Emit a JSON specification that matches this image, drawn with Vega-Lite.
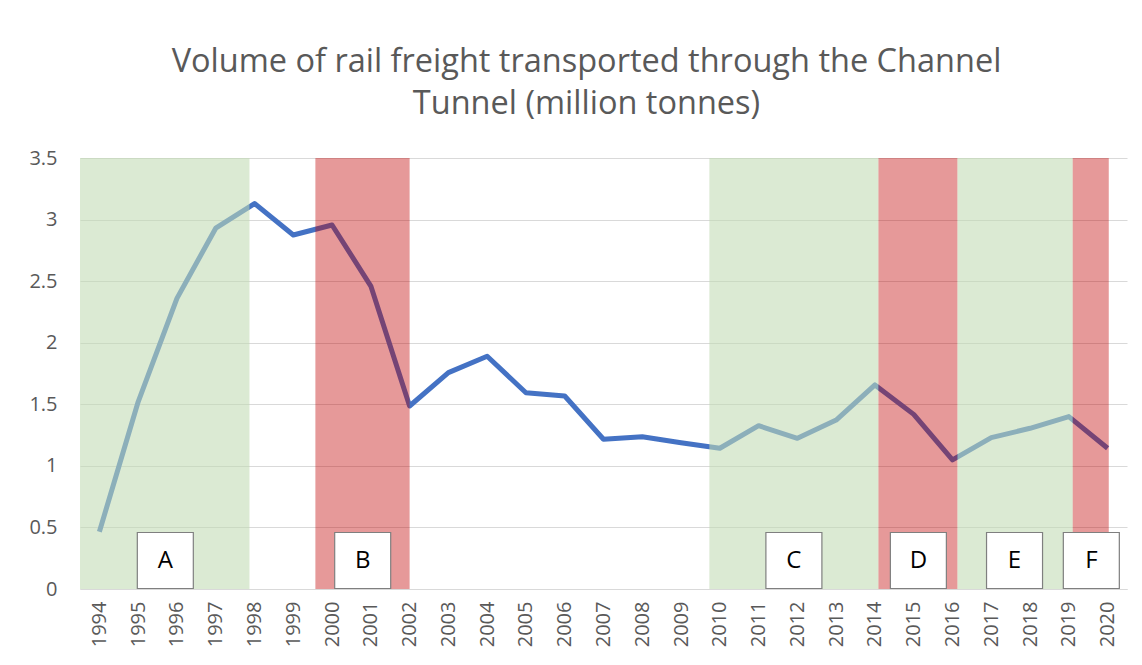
{
  "$schema": "https://vega.github.io/schema/vega-lite/v6.json",
  "width": 1047,
  "height": 431,
  "autosize": {"type": "none"},
  "padding": {"left": 80, "top": 158, "right": 15, "bottom": 76},
  "background": "white",
  "title": {
    "text": ["Volume of rail freight transported through the Channel", "Tunnel (million tonnes)"],
    "font": "Open Sans",
    "fontSize": 32.5,
    "fontWeight": 400,
    "color": "#595959",
    "lineHeight": 42,
    "anchor": "middle",
    "frame": "group",
    "dx": -17,
    "offset": 28
  },
  "config": {
    "view": {"stroke": null},
    "axis": {
      "labelFont": "Open Sans",
      "labelFontSize": 20,
      "labelColor": "#595959",
      "gridColor": "#d9d9d9",
      "gridWidth": 1,
      "ticks": false,
      "title": null
    }
  },
  "datasets": {
    "series": [
      {"year": 1994, "value": 0.465},
      {"year": 1995, "value": 1.52},
      {"year": 1996, "value": 2.36},
      {"year": 1997, "value": 2.93},
      {"year": 1998, "value": 3.13},
      {"year": 1999, "value": 2.875},
      {"year": 2000, "value": 2.956},
      {"year": 2001, "value": 2.46},
      {"year": 2002, "value": 1.486},
      {"year": 2003, "value": 1.757},
      {"year": 2004, "value": 1.89},
      {"year": 2005, "value": 1.594},
      {"year": 2006, "value": 1.567},
      {"year": 2007, "value": 1.216},
      {"year": 2008, "value": 1.237},
      {"year": 2009, "value": 1.188},
      {"year": 2010, "value": 1.143},
      {"year": 2011, "value": 1.326},
      {"year": 2012, "value": 1.224},
      {"year": 2013, "value": 1.372},
      {"year": 2014, "value": 1.657},
      {"year": 2015, "value": 1.418},
      {"year": 2016, "value": 1.048},
      {"year": 2017, "value": 1.229},
      {"year": 2018, "value": 1.305},
      {"year": 2019, "value": 1.40},
      {"year": 2020, "value": 1.143}
    ],
    "periods": [
      {"label": "A", "kind": "growth", "start": 1993.5, "end": 1997.87, "mid": 1995.7},
      {"label": "B", "kind": "decline", "start": 1999.57, "end": 2002.0, "mid": 2000.79},
      {"label": "C", "kind": "growth", "start": 2009.73, "end": 2014.09, "mid": 2011.91},
      {"label": "D", "kind": "decline", "start": 2014.09, "end": 2016.13, "mid": 2015.12},
      {"label": "E", "kind": "growth", "start": 2016.13, "end": 2019.1, "mid": 2017.6},
      {"label": "F", "kind": "decline", "start": 2019.1, "end": 2020.03, "mid": 2019.58}
    ]
  },
  "layer": [
    {
      "data": {"name": "series"},
      "mark": {"type": "line", "color": "#4472C4", "strokeWidth": 5, "strokeJoin": "round"},
      "encoding": {
        "x": {
          "field": "year",
          "type": "quantitative",
          "scale": {"domain": [1993.5, 2020.5], "nice": false, "zero": false},
          "axis": {
            "values": [1994,1995,1996,1997,1998,1999,2000,2001,2002,2003,2004,2005,2006,2007,2008,2009,2010,2011,2012,2013,2014,2015,2016,2017,2018,2019,2020],
            "format": "d",
            "labelAngle": -90,
            "labelPadding": 12,
            "grid": false,
            "domain": true,
            "domainColor": "#d9d9d9",
            "domainWidth": 1
          }
        },
        "y": {
          "field": "value",
          "type": "quantitative",
          "scale": {"domain": [0, 3.5], "nice": false},
          "axis": {
            "values": [0, 0.5, 1, 1.5, 2, 2.5, 3, 3.5],
            "format": "~g",
            "domain": false,
            "grid": true,
            "labelPadding": 23
          }
        }
      }
    },
    {
      "data": {"name": "periods"},
      "mark": {"type": "rect"},
      "encoding": {
        "x": {"field": "start", "type": "quantitative"},
        "x2": {"field": "end"},
        "y": {"datum": 0, "type": "quantitative"},
        "y2": {"datum": 3.5},
        "color": {
          "field": "kind",
          "type": "nominal",
          "scale": {"domain": ["growth", "decline"], "range": ["#C1DBB3", "#C00000"]},
          "legend": null
        },
        "opacity": {
          "field": "kind",
          "type": "nominal",
          "scale": {"domain": ["growth", "decline"], "range": [0.58, 0.4]},
          "legend": null
        }
      }
    },
    {
      "data": {"name": "periods"},
      "mark": {"type": "point", "shape": "square", "size": 3136, "filled": true, "fill": "white", "stroke": "#7f7f7f", "strokeWidth": 1.2, "opacity": 1, "yOffset": -28.5},
      "encoding": {
        "x": {"field": "mid", "type": "quantitative"},
        "y": {"datum": 0, "type": "quantitative"}
      }
    },
    {
      "data": {"name": "periods"},
      "mark": {"type": "text", "font": "Open Sans", "fontSize": 24, "color": "#000000", "baseline": "middle", "align": "center", "yOffset": -28.5},
      "encoding": {
        "x": {"field": "mid", "type": "quantitative"},
        "y": {"datum": 0, "type": "quantitative"},
        "text": {"field": "label"}
      }
    }
  ]
}
